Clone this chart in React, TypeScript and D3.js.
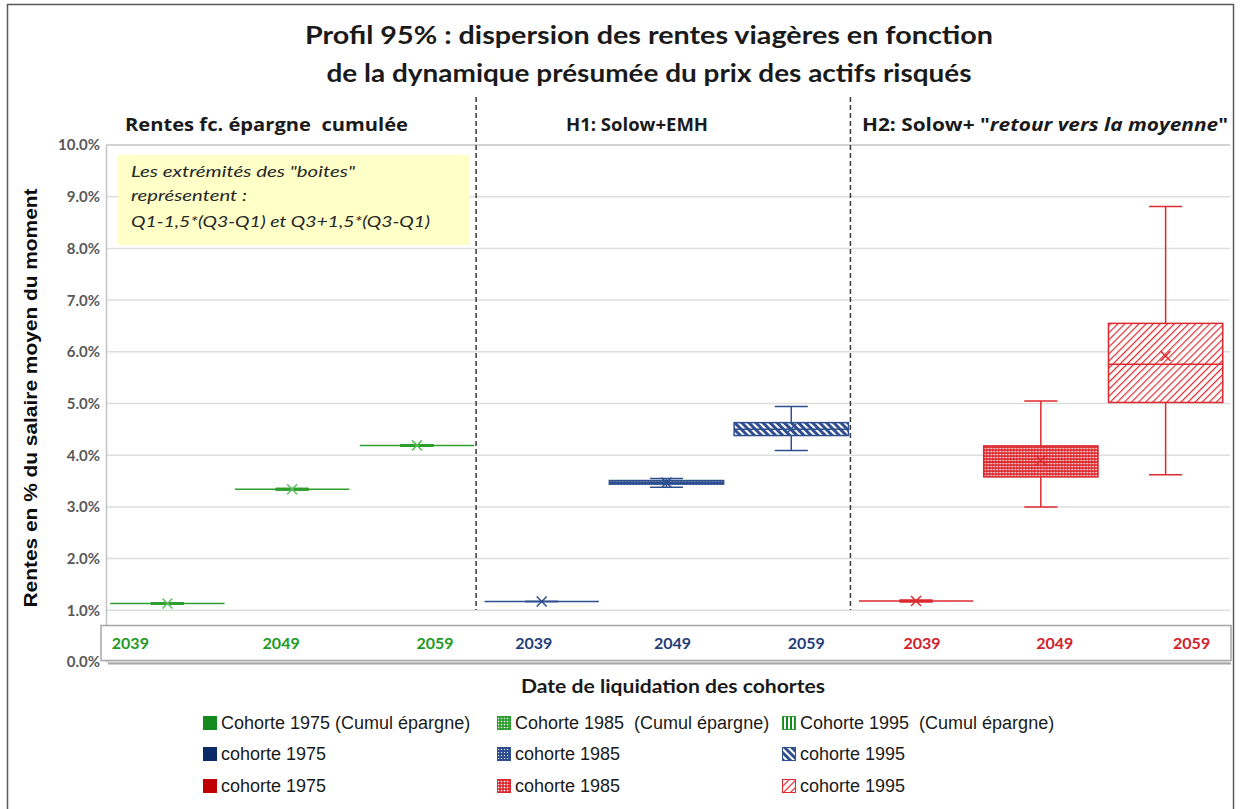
import * as d3 from 'd3'
import { useEffect, useRef } from 'react'

// Categories: 3 scenario groups x 3 liquidation dates
const groups = ['epargne', 'H1', 'H2']
const yearLabels = ['2039', '2049', '2059', '2039', '2049', '2059', '2039', '2049', '2059']
const groupOf = [0, 0, 0, 1, 1, 1, 2, 2, 2]

// Box plot values (% of average wage)
const whiskerLow = [1.13, 3.34, 4.19, 1.17, 3.38, 4.09, 1.18, 3.0, 3.62]
const q1 = [1.13, 3.34, 4.19, 1.17, 3.44, 4.38, 1.18, 3.58, 5.02]
const median = [1.13, 3.34, 4.19, 1.17, 3.47, 4.5, 1.18, 3.87, 5.76]
const q3 = [1.13, 3.34, 4.19, 1.17, 3.51, 4.63, 1.18, 4.18, 6.55]
const whiskerHigh = [1.13, 3.34, 4.19, 1.17, 3.55, 4.94, 1.18, 5.05, 8.81]
const means = [1.13, 3.34, 4.19, 1.17, 3.47, 4.51, 1.18, 3.9, 5.92]

const yTicks = [0, 1, 2, 3, 4, 5, 6, 7, 8, 9, 10]

const legendLabels = [
  ['Cohorte 1975 (Cumul épargne)', 'Cohorte 1985  (Cumul épargne)', 'Cohorte 1995  (Cumul épargne)'],
  ['cohorte 1975', 'cohorte 1985', 'cohorte 1995'],
  ['cohorte 1975', 'cohorte 1985', 'cohorte 1995'],
]

// styles
const groupColor = ['#2e9e2e', '#2f4f8f', '#dc2a30']
const labelColor = ['#229a22', '#1f3d7a', '#d3202a']
const solidColor = ['#138a1b', '#0c2a66', '#c00000']
const markColor = ['#5cbf5c', '#2f4f8f', '#dc2a30']
const boxFill = ['none', 'none', 'none', 'none', 'url(#dotsBlue)', 'url(#stripesBlue)', 'none', 'url(#dotsRed)', 'url(#stripesRed)']
const boxStroke = [3, 3, 3, 1.5, 1.5, 1.5, 3, 1.5, 1.5]
const labelShift = [-37, -11, 18, -8, 6, 15, 6, 14, 26]

const calibri = 'Lato, "Open Sans", sans-serif'
const openSans = '"Open Sans", Lato, sans-serif'
const arial = '"Liberation Sans", Arial, sans-serif'

export default function App() {
  const svgRef = useRef<SVGSVGElement>(null)

  useEffect(() => {
    if (!svgRef.current) return
    const svg = d3.select(svgRef.current)
    svg.selectAll('*').remove()

    const cats = yearLabels.map((y, i) => `${groups[groupOf[i]]}-${y}`)

    const xScale = d3.scaleBand<string>().domain(cats).range([104, 1229]).paddingInner(0.084).paddingOuter(0.05)
    const yScale = d3.scaleLinear().domain([0, 10]).range([662, 145])
    const bw = xScale.bandwidth()

    // patterns
    const defs = svg.append('defs')
    const dots = (id: string, color: string, r: number) => {
      const p = defs.append('pattern').attr('id', id).attr('width', 3).attr('height', 3).attr('patternUnits', 'userSpaceOnUse')
      p.append('rect').attr('width', 3).attr('height', 3).attr('fill', color)
      p.append('circle').attr('cx', 1.5).attr('cy', 1.5).attr('r', r).attr('fill', '#fff')
    }
    const stripes = (id: string, color: string, angle: number, size: number, w: number) => {
      const p = defs
        .append('pattern')
        .attr('id', id)
        .attr('width', size)
        .attr('height', size)
        .attr('patternUnits', 'userSpaceOnUse')
        .attr('patternTransform', `rotate(${angle})`)
      p.append('rect').attr('width', size).attr('height', size).attr('fill', '#fff')
      p.append('rect').attr('width', w).attr('height', size).attr('fill', color)
    }
    dots('dotsGreen', '#2e9e2e', 0.8)
    dots('dotsBlue', '#2f4f8f', 0.6)
    dots('dotsRed', '#dc2a30', 0.85)
    stripes('vstripesGreen', '#138a1b', 0, 4, 2)
    stripes('stripesBlue', '#2f4f8f', -45, 5, 3)
    stripes('stripesRed', '#dc2a30', 45, 5, 1.2)

    svg.append('rect').attr('width', 1240).attr('height', 809).attr('fill', '#fff')

    // outer frame
    svg
      .append('rect')
      .attr('x', 7.5)
      .attr('y', 4.5)
      .attr('width', 1226)
      .attr('height', 830)
      .attr('fill', 'none')
      .attr('stroke', '#5a5a5a')
      .attr('stroke-width', 1.5)

    // title
    const title = [
      ['Profil 95% : dispersion des rentes viagères en fonction', 44, 688],
      ['de la dynamique présumée du prix des actifs risqués', 82, 645],
    ] as [string, number, number][]
    title.forEach(([t, y, len]) => {
      svg
        .append('text')
        .attr('x', 649)
        .attr('y', y)
        .attr('text-anchor', 'middle')
        .attr('font-family', calibri)
        .attr('font-size', 25)
        .attr('font-weight', 700)
        .attr('fill', '#1a1a1a')
        .attr('textLength', len)
        .attr('lengthAdjust', 'spacingAndGlyphs')
        .text(t)
    })

    // group headings
    const heading = (x: number, len: number) =>
      svg
        .append('text')
        .attr('x', x)
        .attr('y', 131)
        .attr('font-family', openSans)
        .attr('font-size', 17)
        .attr('font-weight', 700)
        .attr('fill', '#1a1a1a')
        .attr('textLength', len)
        .attr('lengthAdjust', 'spacingAndGlyphs')
        .style('white-space', 'pre')
    heading(125, 283).text('Rentes fc. épargne  cumulée')
    heading(566, 142).text('H1: Solow+EMH')
    const h2 = heading(862, 366)
    h2.append('tspan').text('H2: Solow+ "')
    h2.append('tspan').attr('font-style', 'italic').text('retour vers la moyenne')
    h2.append('tspan').text('"')

    // gridlines
    svg
      .append('g')
      .selectAll('line')
      .data(yTicks)
      .enter()
      .append('line')
      .attr('x1', 106)
      .attr('x2', 1230)
      .attr('y1', (d: number) => yScale(d))
      .attr('y2', (d: number) => yScale(d))
      .attr('stroke', (d: number) => (d === 10 ? '#c4c4c4' : '#dedede'))
      .attr('stroke-width', 1.5)

    // left axis line
    svg
      .append('line')
      .attr('x1', 106.5)
      .attr('x2', 106.5)
      .attr('y1', yScale(10))
      .attr('y2', yScale(0))
      .attr('stroke', '#c4c4c4')
      .attr('stroke-width', 1.5)

    // y tick labels
    svg
      .append('g')
      .selectAll('text')
      .data(yTicks)
      .enter()
      .append('text')
      .attr('x', 100)
      .attr('y', (d: number) => yScale(d))
      .attr('dy', '0.36em')
      .attr('text-anchor', 'end')
      .attr('font-family', calibri)
      .attr('font-size', 15)
      .attr('font-weight', 700)
      .attr('fill', '#595959')
      .text((d: number) => `${d3.format('.1f')(d)}%`)

    // y axis title
    svg
      .append('text')
      .attr('transform', `translate(37,398) rotate(-90)`)
      .attr('text-anchor', 'middle')
      .attr('font-family', arial)
      .attr('font-size', 18)
      .attr('font-weight', 700)
      .attr('fill', '#0d0d0d')
      .attr('textLength', 419)
      .attr('lengthAdjust', 'spacingAndGlyphs')
      .text('Rentes en % du salaire moyen du moment')

    // annotation
    svg.append('rect').attr('x', 118).attr('y', 155).attr('width', 352).attr('height', 90).attr('fill', '#ffffc8')
    const note = [
      ['Les extrémités des "boites"', 177, 224],
      ['représentent :', 201, 116],
      ['Q1-1,5*(Q3-Q1) et Q3+1,5*(Q3-Q1)', 227, 299],
    ] as [string, number, number][]
    note.forEach(([t, y, len]) => {
      svg
        .append('text')
        .attr('x', 131)
        .attr('y', y)
        .attr('font-family', calibri)
        .attr('font-size', 16)
        .attr('font-style', 'italic')
        .attr('fill', '#262626')
        .attr('textLength', len)
        .attr('lengthAdjust', 'spacingAndGlyphs')
        .text(t)
    })

    // boxes
    const boxes = svg
      .append('g')
      .selectAll('.box')
      .data(cats)
      .enter()
      .append('g')
      .attr('class', 'box')
      .attr('transform', (d: string) => `translate(${xScale(d)},0)`)

    const col = (i: number) => groupColor[groupOf[i]]
    const capW = bw * 0.29

    // whiskers
    boxes
      .append('line')
      .attr('x1', bw / 2)
      .attr('x2', bw / 2)
      .attr('y1', (d: string, i: number) => yScale(whiskerHigh[i]))
      .attr('y2', (d: string, i: number) => yScale(whiskerLow[i]))
      .attr('stroke', (d: string, i: number) => col(i))
      .attr('stroke-width', 1.5)
    ;[whiskerHigh, whiskerLow].forEach((arr) => {
      boxes
        .append('line')
        .attr('x1', bw / 2 - capW / 2)
        .attr('x2', bw / 2 + capW / 2)
        .attr('y1', (d: string, i: number) => yScale(arr[i]))
        .attr('y2', (d: string, i: number) => yScale(arr[i]))
        .attr('stroke', (d: string, i: number) => col(i))
        .attr('stroke-width', (d: string, i: number) => boxStroke[i])
    })

    boxes
      .append('rect')
      .attr('x', 0)
      .attr('width', bw)
      .attr('y', (d: string, i: number) => yScale(q3[i]))
      .attr('height', (d: string, i: number) => yScale(q1[i]) - yScale(q3[i]))
      .attr('fill', (d: string, i: number) => boxFill[i])
      .attr('stroke', (d: string, i: number) => col(i))
      .attr('stroke-width', (d: string, i: number) => boxStroke[i])

    boxes
      .append('line')
      .attr('x1', 0)
      .attr('x2', bw)
      .attr('y1', (d: string, i: number) => yScale(median[i]))
      .attr('y2', (d: string, i: number) => yScale(median[i]))
      .attr('stroke', (d: string, i: number) => col(i))
      .attr('stroke-width', 1.5)

    // mean markers
    const m = 5
    ;[1, -1].forEach((s) => {
      boxes
        .append('line')
        .attr('x1', bw / 2 - m)
        .attr('x2', bw / 2 + m)
        .attr('y1', (d: string, i: number) => yScale(means[i]) - s * m)
        .attr('y2', (d: string, i: number) => yScale(means[i]) + s * m)
        .attr('stroke', (d: string, i: number) => markColor[groupOf[i]])
        .attr('stroke-width', 1.5)
    })

    // group separators
    ;[2, 5].forEach((i) => {
      const x = (xScale(cats[i]) as number) + bw + 2
      svg
        .append('line')
        .attr('x1', x)
        .attr('x2', x)
        .attr('y1', 97)
        .attr('y2', 610)
        .attr('stroke', '#3a3a3a')
        .attr('stroke-width', 1.5)
        .attr('stroke-dasharray', '5,3')
    })

    // category label box
    svg
      .append('line')
      .attr('x1', 108)
      .attr('x2', 1231)
      .attr('y1', 663.5)
      .attr('y2', 663.5)
      .attr('stroke', '#a6a6a6')
      .attr('stroke-width', 2)
    svg
      .append('rect')
      .attr('x', 101)
      .attr('y', 625.5)
      .attr('width', 1130)
      .attr('height', 35)
      .attr('fill', '#fff')
      .attr('stroke', '#a6a6a6')
      .attr('stroke-width', 1.5)

    svg
      .append('g')
      .selectAll('text')
      .data(cats)
      .enter()
      .append('text')
      .attr('x', (d: string, i: number) => (xScale(d) as number) + bw / 2 + labelShift[i])
      .attr('y', 649)
      .attr('text-anchor', 'middle')
      .attr('font-family', calibri)
      .attr('font-size', 16)
      .attr('font-weight', 700)
      .attr('fill', (d: string, i: number) => labelColor[groupOf[i]])
      .text((d: string, i: number) => yearLabels[i])

    // x axis title
    svg
      .append('text')
      .attr('x', 673)
      .attr('y', 693)
      .attr('text-anchor', 'middle')
      .attr('font-family', calibri)
      .attr('font-size', 18)
      .attr('font-weight', 700)
      .attr('fill', '#1a1a1a')
      .attr('textLength', 304)
      .attr('lengthAdjust', 'spacingAndGlyphs')
      .text('Date de liquidation des cohortes')

    // legend
    const legendCols = [203, 497, 782]
    const legendRows = [723, 754, 786]
    const swatchFill = [
      [solidColor[0], 'url(#dotsGreen)', 'url(#vstripesGreen)'],
      [solidColor[1], 'url(#dotsBlue)', 'url(#stripesBlue)'],
      [solidColor[2], 'url(#dotsRed)', 'url(#stripesRed)'],
    ]
    legendLabels.forEach((row, r) => {
      row.forEach((label, c) => {
        const g = svg.append('g').attr('transform', `translate(${legendCols[c]},${legendRows[r]})`)
        g.append('rect')
          .attr('x', 0.5)
          .attr('y', -6.5)
          .attr('width', 13)
          .attr('height', 13)
          .attr('fill', swatchFill[r][c])
          .attr('stroke', c === 0 ? solidColor[r] : groupColor[r])
          .attr('stroke-width', 1)
        g.append('text')
          .attr('x', 18)
          .attr('y', 6)
          .attr('font-family', arial)
          .attr('font-size', 18)
          .attr('fill', '#1a1a1a')
          .style('white-space', 'pre')
          .text(label)
      })
    })
  }, [])

  return <svg ref={svgRef} width={1240} height={809} style={{ position: 'absolute', left: 0, top: 0 }} />
}
